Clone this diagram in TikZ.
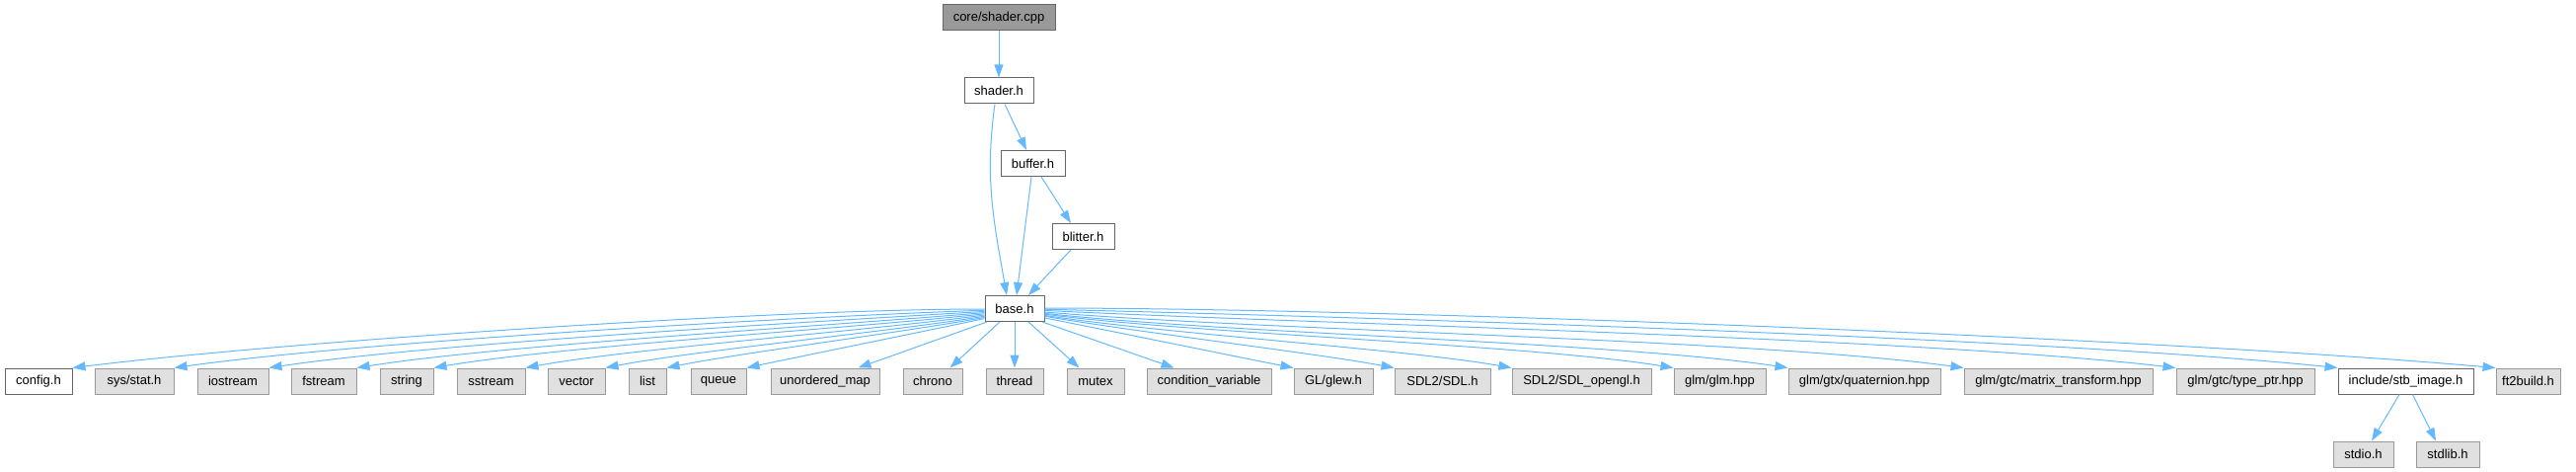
\documentclass[tikz,border=0pt]{standalone}
\usepackage{fontspec}
\setmainfont{Liberation Sans}
\usepackage{xcolor}
\usepackage{tikz}
\usetikzlibrary{arrows.meta}

\definecolor{edgeblue}{HTML}{63B8FF}
\definecolor{sysfill}{HTML}{E0E0E0}
\definecolor{sysline}{HTML}{999999}
\definecolor{hdrline}{HTML}{666666}
\definecolor{rootfill}{HTML}{999999}

\tikzset{
  filebox/.style={draw, line width=1pt, minimum height=26pt, inner xsep=2pt,
    inner ysep=0pt, font=\fontsize{13}{15}\selectfont},
  hdrbox/.style={filebox, draw=hdrline, fill=white},
  sysbox/.style={filebox, draw=sysline, fill=sysfill},
  rootbox/.style={filebox, draw=hdrline, fill=rootfill},
  dep/.style={draw=edgeblue, line width=1pt, -{Triangle[length=13pt,width=9pt]}},
}

\begin{document}
\begin{tikzpicture}[x=1pt, y=1pt]
  \useasboundingbox (0,0) rectangle (2610,-478);

  % ── Project headers ──
  \node[rootbox, minimum width=114pt] (root)    at (1012,-18)     {core/shader.cpp};
  \node[hdrbox,  minimum width=70pt]  (shaderh) at (1012,-92)     {shader.h};
  \node[hdrbox,  minimum width=65pt]  (buffer)  at (1046.5,-165.5) {buffer.h};
  \node[hdrbox,  minimum width=63pt]  (blitter) at (1097.5,-239.5) {blitter.h};
  \node[hdrbox,  minimum width=60pt]  (base)    at (1028,-312.5)   {base.h};
  \node[hdrbox,  minimum width=68pt]  (cfg)     at (39,-386)       {config.h};
  \node[hdrbox,  minimum width=137pt] (stbi)    at (2437.5,-386)   {include/stb\_image.h};

  % ── System and library headers ──
  \foreach \nm/\txt/\xa/\xb in
      {sysstat/{sys/stat.h}/96/176, iostream/iostream/200/272,
       fstream/fstream/295/361, string/string/385/439,
       sstream/sstream/463/532, vector/vector/555/613,
       list/list/637/675, queue/queue/700/756,
       umap/{unordered\_map}/781/891, chrono/chrono/915/975,
       thread/thread/999/1057, mutex/mutex/1081/1139,
       condvar/{condition\_variable}/1162/1288, glew/{GL/glew.h}/1311/1391,
       sdl/{SDL2/SDL.h}/1413/1510, sdlgl/{SDL2/SDL\_opengl.h}/1532/1673,
       glm/{glm/glm.hpp}/1696/1789, quat/{glm/gtx/quaternion.hpp}/1812/1966,
       mtx/{glm/gtc/matrix\_transform.hpp}/1990/2181,
       tptr/{glm/gtc/type\_ptr.hpp}/2205/2345, ft2/{ft2build.h}/2529/2594} {
    \pgfmathsetmacro{\bw}{\xb-\xa}
    \node[sysbox, minimum width=\bw pt] (\nm) at ({(\xa+\xb)/2},-386) {\txt};
  }
  \node[sysbox, minimum width=61pt] (stdio)  at (2394.5,-460) {stdio.h};
  \node[sysbox, minimum width=64pt] (stdlib) at (2480,-460)   {stdlib.h};

  % ── Upper includes ──
  \draw[dep] (root) -- (shaderh);
  \draw[dep] ([xshift=6pt]shaderh.south) -- ([xshift=-6.5pt]buffer.north);
  \draw[dep] ([xshift=-4pt]shaderh.south) to[out=-98, in=100] ([xshift=-8pt]base.north);
  \draw[dep] ([xshift=-1.5pt]buffer.south) -- ([xshift=2pt]base.north);
  \draw[dep] ([xshift=8.5pt]buffer.south) -- ([xshift=-12.5pt]blitter.north);
  \draw[dep] ([xshift=-12.5pt]blitter.south) -- ([xshift=14pt]base.north);

  % Fan to the left (\d = horizontal run)
  \foreach \nm/\a/\b/\ys/\d in
      {cfg/0/7/-0.5/925, sysstat/2/8/-1.7/822, iostream/3.5/8.5/-2.9/726,
       fstream/5/9/-4.1/637, string/6.4/9.7/-5.3/559, sstream/8/10.4/-6.5/466,
       vector/9.5/11/-7.7/385, list/10.6/11.4/-8.9/323, queue/12/12/-10.1/242} {
    \pgfmathsetmacro{\cl}{0.235*\d}
    \draw[dep] ([yshift=\ys pt]base.west)
      .. controls +({\cl*cos(180+\a)},{\cl*sin(180+\a)})
         and +({\cl*cos(\b)},{\cl*sin(\b)}) .. (\nm.north east);
  }

  % Straight down from base.h
  \draw[dep] ([xshift=-28pt]base.south) -- ([xshift=-22pt]umap.north east);
  \draw[dep] ([xshift=-15pt]base.south) -- ([xshift=-13pt]chrono.north east);
  \draw[dep] (base) -- (thread);
  \draw[dep] ([xshift=14pt]base.south) -- ([xshift=13pt]mutex.north west);
  \draw[dep] ([xshift=28pt]base.south) -- ([xshift=28pt]condvar.north west);

  % Fan to the right
  \foreach \nm/\a/\b/\ys/\d in
      {glew/11/11/-9.5/253, sdl/10.1/10.5/-7.7/355, sdlgl/9/9.9/-6.9/474,
       glm/7.5/9.1/-5.7/638, quat/6.5/8.5/-4.8/754, mtx/4.9/7.7/-3.5/932,
       tptr/2.9/6.6/-1.9/1147, stbi/1.4/5.8/-0.7/1311, ft2/0/5/0.5/1471} {
    \pgfmathsetmacro{\cl}{0.235*\d}
    \draw[dep] ([yshift=\ys pt]base.east)
      .. controls +({\cl*cos(-\a)},{\cl*sin(-\a)})
         and +({\cl*cos(180-\b)},{\cl*sin(180-\b)}) .. (\nm.north west);
  }

  % stb_image includes
  \draw[dep] ([xshift=-6.5pt]stbi.south) -- ([xshift=8.5pt]stdio.north);
  \draw[dep] ([xshift=7pt]stbi.south) -- ([xshift=-12pt]stdlib.north);
\end{tikzpicture}
\end{document}
